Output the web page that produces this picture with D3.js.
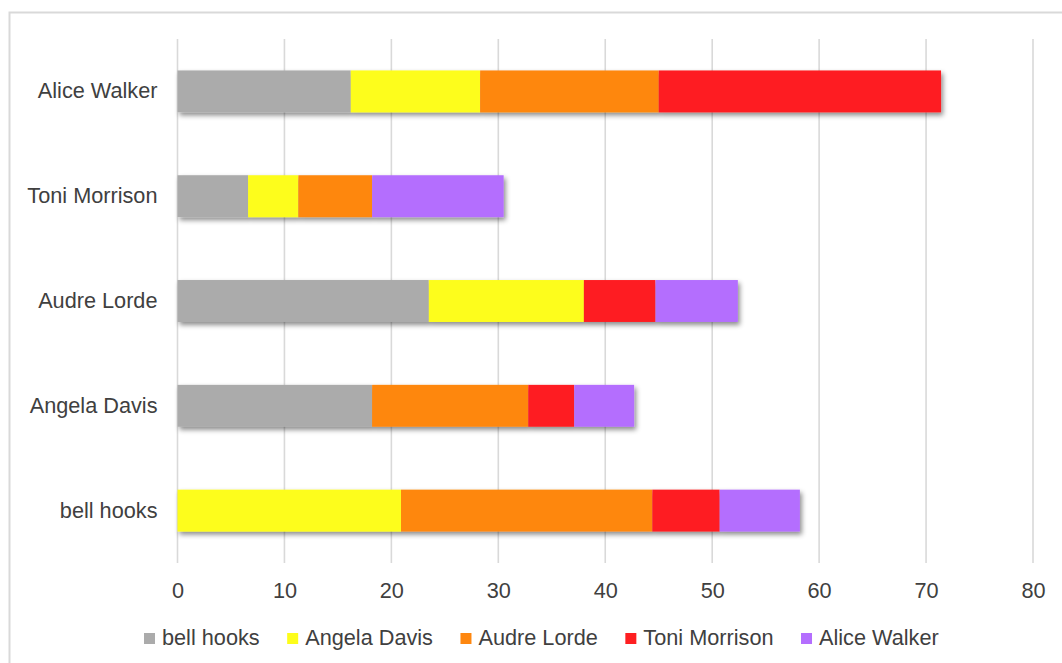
<!DOCTYPE html>
<html>
<head>
<meta charset="utf-8">
<script src="https://cdn.jsdelivr.net/npm/d3@7"></script>
<style>
  html, body { margin: 0; padding: 0; background: #fff; }
  svg { display: block; font-family: "Liberation Sans", Arial, sans-serif; }
</style>
</head>
<body>
<svg id="chart" width="1062" height="663"></svg>
<script>
// Authors on the vertical axis (listed bottom to top)
const categories = ["bell hooks", "Angela Davis", "Audre Lorde", "Toni Morrison", "Alice Walker"];

// Stacked series, one value per category above
const seriesNames = ["bell hooks", "Angela Davis", "Audre Lorde", "Toni Morrison", "Alice Walker"];
const bellHooks    = [0,    18.2, 23.5, 6.6,  16.2];
const angelaDavis  = [20.9, 0,    14.5, 4.7,  12.1];
const audreLorde   = [23.5, 14.6, 0,    6.9,  16.7];
const toniMorrison = [6.3,  4.3,  6.7,  0,    26.4];
const aliceWalker  = [7.5,  5.6,  7.7,  12.3, 0];

const xTicks = [0, 10, 20, 30, 40, 50, 60, 70, 80];
const colors = ["#ababab", "#fdfd1a", "#fe870f", "#fe1f21", "#b46efe"];

const seriesValues = [bellHooks, angelaDavis, audreLorde, toniMorrison, aliceWalker];
const rows = categories.map((c, i) => {
  const r = { category: c };
  seriesNames.forEach((s, j) => { r[s] = seriesValues[j][i]; });
  return r;
});

const svg = d3.select("#chart");
const margin = { left: 177.5, right: 29, top: 39, bottom: 100 };
const W = 1062, H = 663;
const fontSize = 21.7;
const textColor = "#404040";

// Outer chart frame
svg.append("rect")
  .attr("x", 9.5).attr("y", 12.5)
  .attr("width", 1100).attr("height", 700)
  .attr("fill", "#fff")
  .attr("stroke", "#d9d9d9").attr("stroke-width", 2);

const x = d3.scaleLinear().domain([0, 80]).range([margin.left, W - margin.right]);
const y = d3.scaleBand()
  .domain(categories.slice().reverse())
  .range([margin.top, H - margin.bottom])
  .paddingInner(0.6).paddingOuter(0.3);

// Vertical gridlines
svg.append("g")
  .selectAll("line").data(xTicks).join("line")
  .attr("x1", d => x(d)).attr("x2", d => x(d))
  .attr("y1", margin.top).attr("y2", H - margin.bottom)
  .attr("stroke", "#d9d9d9").attr("stroke-width", 1.6);

// Soft drop shadow under each bar
const defs = svg.append("defs");
const f = defs.append("filter").attr("id", "shadow")
  .attr("x", "-5%").attr("y", "-20%").attr("width", "115%").attr("height", "160%");
f.append("feDropShadow")
  .attr("dx", 2).attr("dy", 3).attr("stdDeviation", 2.5)
  .attr("flood-color", "#000").attr("flood-opacity", 0.45);

const stacked = d3.stack().keys(seriesNames)(rows);

const barGroups = svg.append("g").selectAll("g")
  .data(categories).join("g")
  .attr("filter", "url(#shadow)");

barGroups.each(function(cat, ci) {
  const g = d3.select(this);
  stacked.forEach((layer, si) => {
    const seg = layer[ci];
    if (seg[1] - seg[0] <= 0) return;
    g.append("rect")
      .attr("x", x(seg[0]))
      .attr("y", y(cat))
      .attr("width", x(seg[1]) - x(seg[0]))
      .attr("height", y.bandwidth())
      .attr("fill", colors[si]);
  });
});

// Category labels
const yAxis = svg.append("g")
  .attr("transform", `translate(${margin.left},0)`)
  .call(d3.axisLeft(y).tickSize(0).tickPadding(20));
yAxis.select(".domain").remove();
yAxis.selectAll("text")
  .attr("font-size", fontSize).attr("fill", textColor)
  .attr("font-family", "Liberation Sans, Arial, sans-serif");

// Value axis labels
const xAxis = svg.append("g")
  .attr("transform", `translate(0,${H - margin.bottom})`)
  .call(d3.axisBottom(x).tickValues(xTicks).tickSize(0).tickPadding(20));
xAxis.select(".domain").remove();
xAxis.selectAll("text")
  .attr("font-size", fontSize).attr("fill", textColor)
  .attr("font-family", "Liberation Sans, Arial, sans-serif");

// Legend
const legend = svg.append("g");
let lx = 144;
seriesNames.forEach((name, i) => {
  const item = legend.append("g");
  item.append("rect")
    .attr("x", lx).attr("y", 633)
    .attr("width", 11).attr("height", 11)
    .attr("fill", colors[i]);
  const t = item.append("text")
    .attr("x", lx + 18).attr("y", 645)
    .attr("font-size", fontSize).attr("fill", textColor)
    .text(name);
  lx += 18 + t.node().getComputedTextLength() + 27.5;
});
</script>
</body>
</html>
